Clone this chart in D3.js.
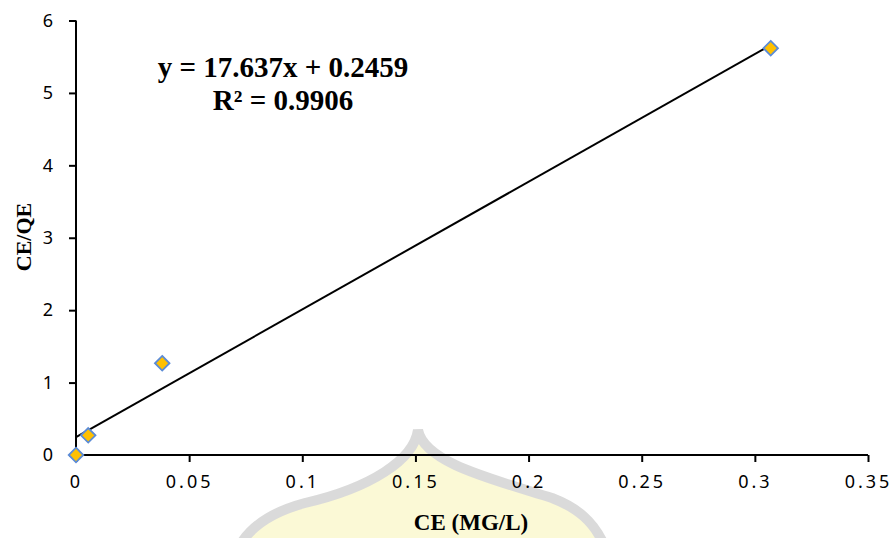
<!DOCTYPE html>
<html>
<head>
<meta charset="utf-8">
<script src="https://cdn.jsdelivr.net/npm/d3@7"></script>
<style>
  body { margin: 0; background: #fff; }
  svg { display: block; }
</style>
</head>
<body>
<div id="chart"></div>
<script>
// data
const ceValues = [0, 0.0054, 0.0381, 0.307];
const ceQeValues = [0, 0.272, 1.267, 5.617];
const xTicks = [0, 0.05, 0.1, 0.15, 0.2, 0.25, 0.3, 0.35];
const yTicks = [0, 1, 2, 3, 4, 5, 6];
const slope = 17.637;
const intercept = 0.2459;
const rSquared = 0.9906;

var width = 896, height = 538;

var svg = d3.select('#chart')
  .append('svg')
  .attr('width', width)
  .attr('height', height);

// faint logo watermark behind the chart
svg.append('path')
  .attr('d', 'M418,430 C414,460 370,488 305,503 C275,511 252,525 240,545 L604,545 C594,522 578,508 552,498 C488,478 424,462 418,430 Z')
  .attr('fill', '#fbf8cf')
  .attr('stroke', '#d4d4d4')
  .attr('stroke-width', 10)
  .attr('opacity', 0.85);

var x = d3.scaleLinear().domain([0, 0.35]).range([76, 868]);
var y = d3.scaleLinear().domain([0, 6]).range([455, 20.5]);

var xAxis = svg.append('g')
  .attr('transform', 'translate(0,' + y(0) + ')')
  .call(d3.axisBottom(x).tickValues(xTicks).tickSize(7).tickPadding(13)
    .tickFormat(function(d) { return String(d); }));

xAxis.selectAll('text')
  .attr('font-family', '"Noto Sans", sans-serif')
  .attr('font-size', 18)
  .attr('letter-spacing', '3px')
  .attr('fill', '#000');

var yAxis = svg.append('g')
  .attr('transform', 'translate(' + x(0) + ',0)')
  .call(d3.axisLeft(y).tickValues(yTicks).tickSize(7).tickPadding(16)
    .tickFormat(d3.format('d')));

yAxis.selectAll('text')
  .attr('font-family', '"Noto Sans", sans-serif')
  .attr('font-size', 18)
  .attr('fill', '#000');

svg.selectAll('.domain, .tick line')
  .attr('stroke', '#000')
  .attr('stroke-width', 2);
// plain axis lines without the outer end ticks of the domain path
xAxis.select('.domain').attr('d', 'M' + x(0) + ',0H' + x(0.35));
yAxis.select('.domain').attr('d', 'M0,' + y(0) + 'V' + y(6));

// linear trendline over the data range
var xMax = d3.max(ceValues);
svg.append('line')
  .attr('x1', x(0))
  .attr('y1', y(intercept))
  .attr('x2', x(xMax))
  .attr('y2', y(slope * xMax + intercept))
  .attr('stroke', '#000')
  .attr('stroke-width', 2);

var points = ceValues.map(function(d, i) {
  return { ce: d, ceqe: ceQeValues[i] };
});

svg.selectAll('.point')
  .data(points)
  .enter()
  .append('path')
  .attr('class', 'point')
  .attr('d', d3.symbol().type(d3.symbolDiamond2).size(135))
  .attr('transform', function(d) {
    return 'translate(' + x(d.ce) + ',' + y(d.ceqe) + ')';
  })
  .attr('fill', '#FFC000')
  .attr('stroke', '#5B8BD6')
  .attr('stroke-width', 1.8);

// trendline label
var eq = svg.append('text')
  .attr('x', 283)
  .attr('text-anchor', 'middle')
  .attr('font-family', '"Liberation Serif", "Times New Roman", serif')
  .attr('font-weight', 'bold')
  .attr('font-size', 29);
eq.append('tspan')
  .attr('x', 283).attr('y', 77)
  .text('y = ' + slope + 'x + ' + intercept);
eq.append('tspan')
  .attr('x', 283).attr('y', 110)
  .text('R² = ' + rSquared);

// axis titles
svg.append('text')
  .attr('x', 471)
  .attr('y', 530)
  .attr('text-anchor', 'middle')
  .attr('font-family', '"Liberation Serif", "Times New Roman", serif')
  .attr('font-weight', 'bold')
  .attr('font-size', 23)
  .text('CE (MG/L)');

svg.append('text')
  .attr('transform', 'translate(31,237) rotate(-90)')
  .attr('text-anchor', 'middle')
  .attr('font-family', '"Liberation Serif", "Times New Roman", serif')
  .attr('font-weight', 'bold')
  .attr('font-size', 22)
  .text('CE/QE');
</script>
</body>
</html>
